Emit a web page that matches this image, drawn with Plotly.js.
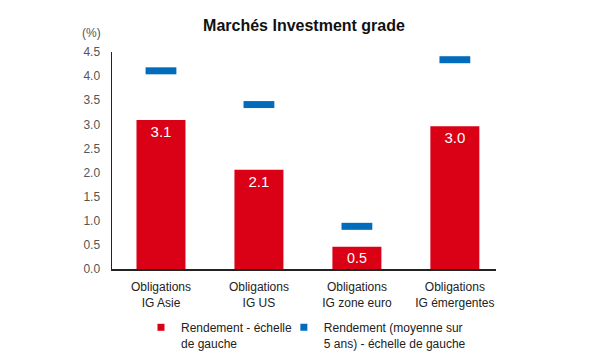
<!DOCTYPE html>
<html>
<head>
<meta charset="utf-8">
<script src="https://cdn.plot.ly/plotly-3.0.1.min.js"></script>
<style>html,body{margin:0;padding:0;background:#fff}#chart{width:590px;height:353px}</style>
</head>
<body>
<div id="chart"></div>
<script>
const categories = ["Obligations<br>IG Asie", "Obligations<br>IG US", "Obligations<br>IG zone euro", "Obligations<br>IG émergentes"];
const rendement = [3.09, 2.06, 0.46, 2.96];
const moyenne5ans = [4.11, 3.41, 0.885, 4.34];
const seriesNames = ["Rendement - échelle<br>de gauche", "Rendement (moyenne sur<br>5 ans) - échelle de gauche"];
const yTicks = [0, 0.5, 1, 1.5, 2, 2.5, 3, 3.5, 4, 4.5];
const yTickText = ["0.0", "0.5", "1.0", "1.5", "2.0", "2.5", "3.0", "3.5", "4.0", "4.5"];

const RED = "#DA0016", BLUE = "#006CBB";
const FONT = "Liberation Sans, Arial, sans-serif";

const traces = [
  {
    type: "bar", x: categories, y: rendement, width: 0.5,
    marker: {color: RED},
    texttemplate: "%{y:.1f}", textposition: "inside", insidetextanchor: "end",
    textfont: {color: "#ffffff", size: 15, family: FONT},
    showlegend: false, hoverinfo: "skip", cliponaxis: false
  },
  {
    type: "scatter", mode: "markers", x: categories, y: moyenne5ans,
    marker: {symbol: "line-ew", size: 22, line: {color: BLUE, width: 7}},
    showlegend: false, hoverinfo: "skip"
  },
  {
    type: "scatter", mode: "markers", x: [null], y: [null], name: seriesNames[0],
    marker: {symbol: "square", size: 7, color: RED}, legend: "legend"
  },
  {
    type: "scatter", mode: "markers", x: [null], y: [null], name: seriesNames[1],
    marker: {symbol: "square", size: 7, color: BLUE}, legend: "legend2"
  }
];

const legendBase = {
  xanchor: "left", yref: "container", y: 1 - 313/353, yanchor: "top", valign: "top",
  font: {size: 12, color: "#222"}, itemwidth: 30, bgcolor: "rgba(0,0,0,0)"
};

const layout = {
  width: 590, height: 353,
  paper_bgcolor: "#fff", plot_bgcolor: "#fff",
  margin: {l: 112, r: 94, t: 51.7, b: 83.7, autoexpand: false},
  font: {family: FONT, size: 12, color: "#222"},
  title: {text: "<b>Marchés Investment grade</b>", font: {size: 16, color: "#111", family: FONT},
          x: 0.5, xref: "paper", y: 1 - 25/353, yref: "container", yanchor: "middle"},
  xaxis: {
    type: "category", range: [-0.5, 3.42], showgrid: false, zeroline: false,
    showline: true, linecolor: "#222", linewidth: 1.5,
    ticks: "outside", ticklen: 6, tickcolor: "rgba(0,0,0,0)",
    tickfont: {size: 12, color: "#222"}, fixedrange: true
  },
  yaxis: {
    range: [0, 4.5], tickvals: yTicks, ticktext: yTickText,
    showgrid: false, zeroline: false, showline: true, linecolor: "#222", linewidth: 1.5,
    ticks: "outside", ticklen: 8, tickcolor: "rgba(0,0,0,0)",
    tickfont: {size: 12, color: "#555"}, fixedrange: true
  },
  showlegend: true,
  legend: Object.assign({}, legendBase, {x: (141 - 112) / 384.3}),
  legend2: Object.assign({}, legendBase, {x: (284 - 112) / 384.3}),
  annotations: [
    {text: "(%)", xref: "paper", yref: "paper", x: (91 - 112) / 384.3, y: 1 + (51.7 - 33) / 217.6,
     xanchor: "center", yanchor: "middle", showarrow: false, font: {size: 12, color: "#555"}}
  ]
};

Plotly.newPlot("chart", traces, layout, {displayModeBar: false, staticPlot: true});
</script>
</body>
</html>
